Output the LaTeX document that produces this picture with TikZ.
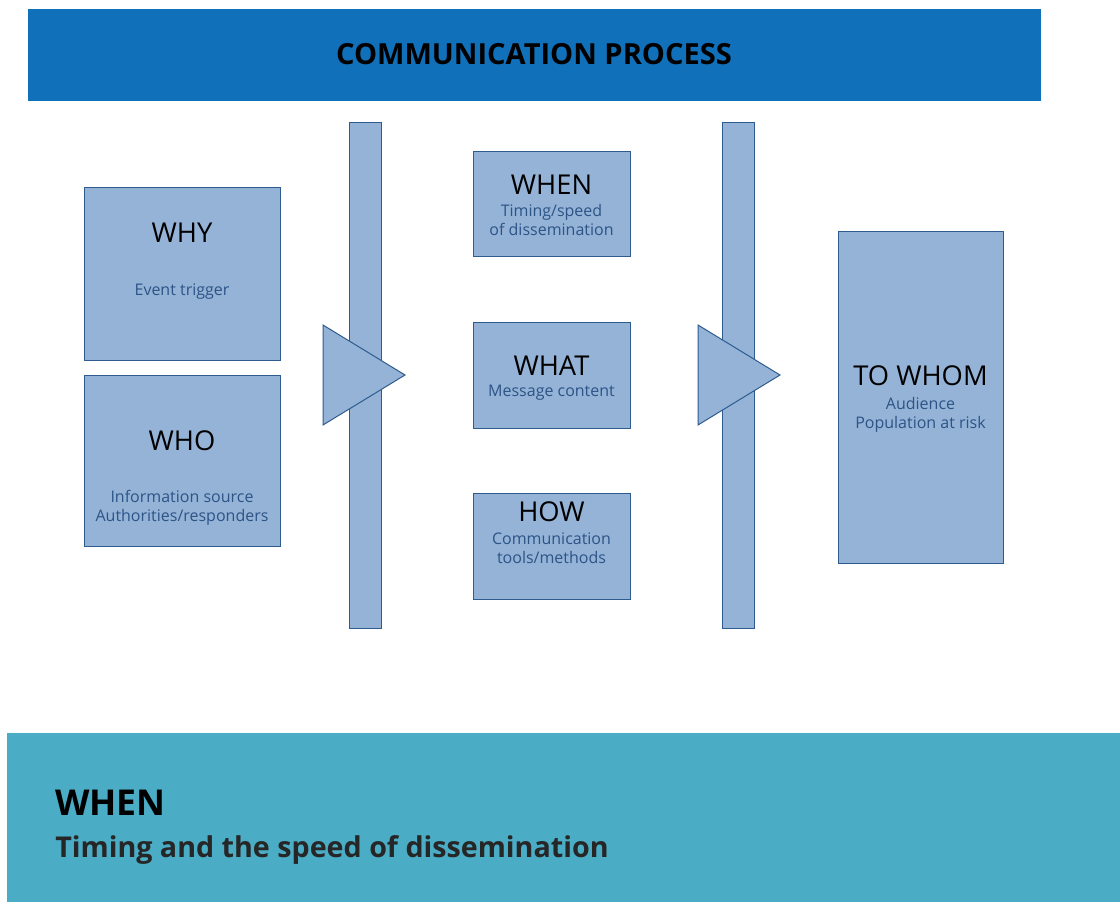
\documentclass[tikz,border=0pt]{standalone}
\usepackage{fontspec}
\setmainfont{Open Sans}
\definecolor{boxfill}{HTML}{95B3D7}
\definecolor{boxline}{HTML}{2E5C8E}
\definecolor{subtext}{HTML}{2C5486}
\definecolor{banner}{HTML}{1070BA}
\definecolor{band}{HTML}{4BACC6}
\begin{document}
\begin{tikzpicture}[x=0.75pt,y=-0.75pt]
  \tikzset{
    stage/.style={draw=boxline, fill=boxfill, line width=0.75pt, inner sep=0pt},
    head/.style={anchor=base, text=black, font=\fontsize{20.5}{24}\selectfont},
    detail/.style={anchor=base, align=center, text=subtext, font=\fontsize{12}{14.25}\selectfont},
    pointer/.style={draw=boxline, fill=boxfill, line width=0.75pt, line join=miter}
  }
  \useasboundingbox (0,0) rectangle (1120,902);

  % title banner
  \fill[banner] (28,9) rectangle (1041,101);
  \node[anchor=base, font=\bfseries\fontsize{21.8}{25}\selectfont] (title) at (534,65) {COMMUNICATION PROCESS};

  % bars
  \node[stage, minimum width=24pt, minimum height=378.75pt] (bar1) at (365,375.5) {};
  \node[stage, minimum width=24pt, minimum height=378.75pt] (bar2) at (738,375.5) {};

  % pointers
  \foreach \x/\name in {323/one, 698/two} {
    \coordinate (\name-top) at (\x,325);
    \coordinate (\name-bot) at (\x,425);
    \coordinate (\name-tip) at (\x+82,375);
    \draw[pointer] (\name-top) -- (\name-tip) -- (\name-bot) -- cycle;
  }

  % left column
  \node[stage, minimum width=147pt, minimum height=129pt] (why) at (182,274) {};
  \node[stage, minimum width=147pt, minimum height=128.25pt] (who) at (182,460.5) {};
  \node[head] (why-h) at (182,243) {WHY};
  \node[detail] (why-d) at (182,295) {Event trigger};
  \node[head] (who-h) at (182,450) {WHO};
  \node[detail] (who-d) at (182,521) {Information source\\Authorities/responders};

  % middle column
  \node[stage, minimum width=117.75pt, minimum height=78.75pt] (when) at (551.5,204.5) {};
  \node[stage, minimum width=117.75pt, minimum height=79.5pt] (what) at (551.5,375) {};
  \node[stage, minimum width=117.75pt, minimum height=79.5pt] (how) at (551.5,546) {};
  \node[head] (when-h) at (551.5,195) {WHEN};
  \node[detail] (when-d) at (551.5,236) {Timing/speed\\of dissemination};
  \node[head] (what-h) at (551.5,375) {WHAT};
  \node[detail] (what-d) at (551.5,396) {Message content};
  \node[head] (how-h) at (551.5,521) {HOW};
  \node[detail] (how-d) at (551.5,563) {Communication\\tools/methods};

  % right column
  \node[stage, minimum width=123.75pt, minimum height=248.25pt] (whom) at (920.5,397.5) {};
  \node[head] (whom-h) at (920.5,385) {TO WHOM};
  \node[detail] (whom-d) at (920.5,428) {Audience\\Population at risk};

  % bottom band
  \fill[band] (7,733) rectangle (1120,902);
  \node[anchor=base west, inner sep=0pt, font=\bfseries\fontsize{26.7}{30}\selectfont] (note-h) at (55,815) {WHEN};
  \node[anchor=base west, inner sep=0pt, text=black!85, font=\bfseries\fontsize{21.5}{25}\selectfont] (note-d) at (55,857) {Timing and the speed of dissemination};
\end{tikzpicture}
\end{document}
